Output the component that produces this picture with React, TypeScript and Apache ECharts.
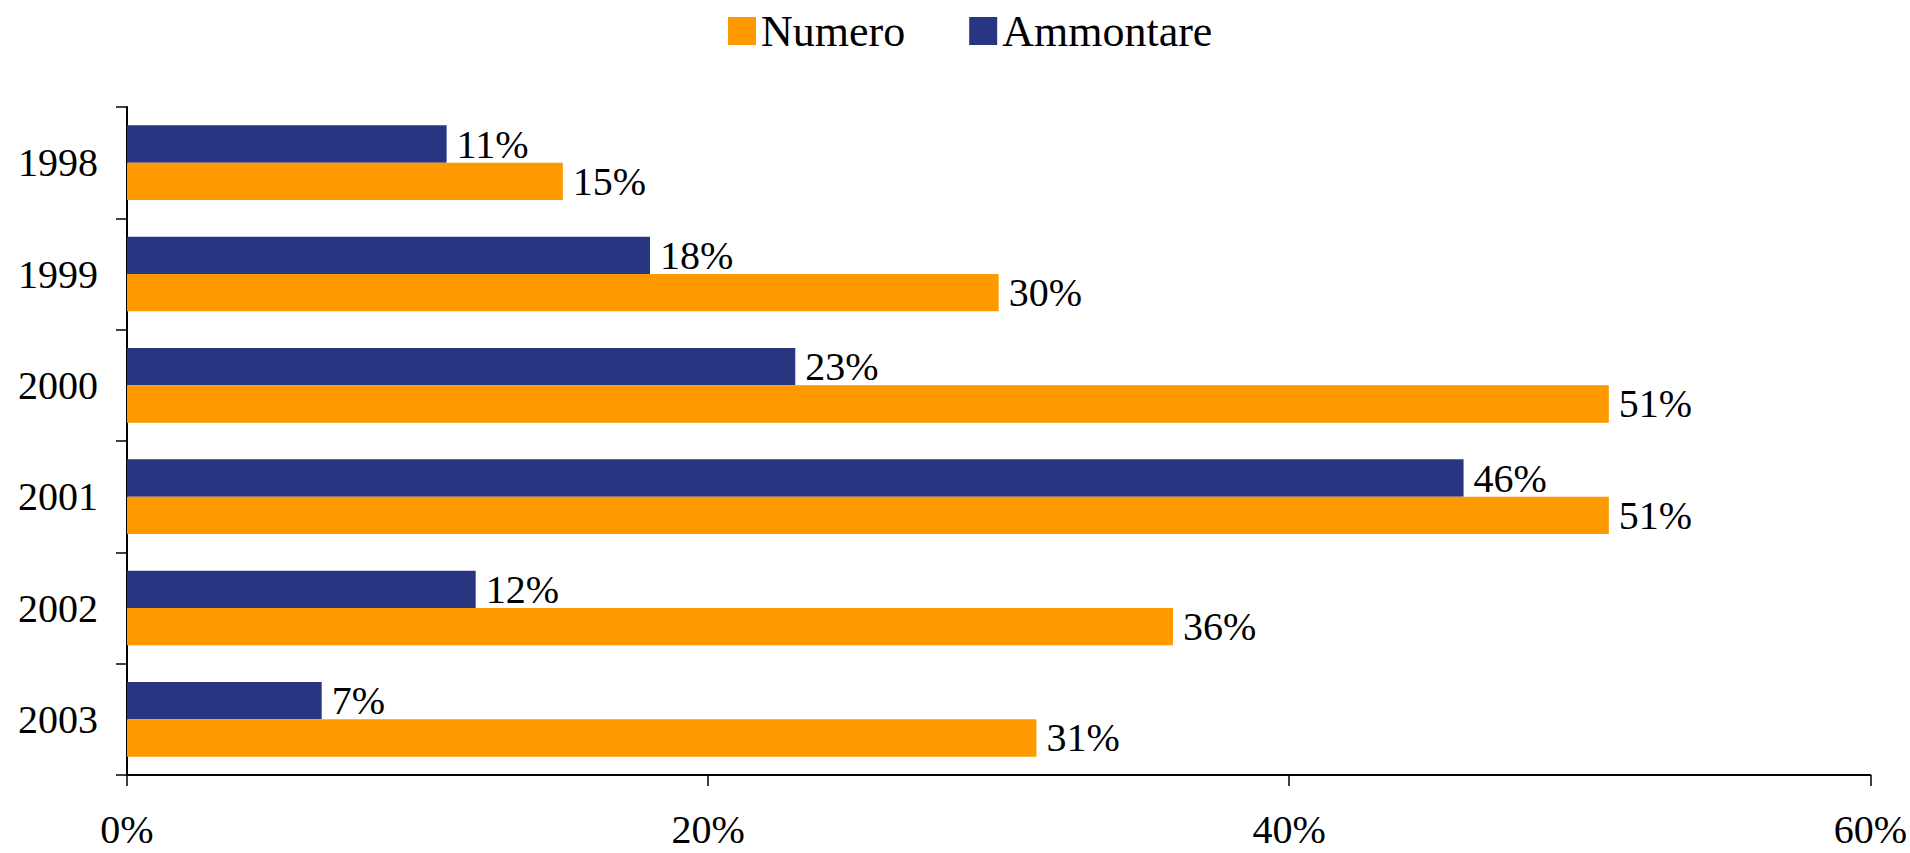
import React, { useEffect, useRef } from "react";
import * as echarts from "echarts";

const years = ["1998", "1999", "2000", "2001", "2002", "2003"];
const numero = [15, 30, 51, 51, 36, 31.3];
const ammontare = [11, 18, 23, 46, 12, 6.7];
const xTicks = [0, 20, 40, 60];

const FONT = "'Liberation Serif', 'Times New Roman', serif";

export default function App() {
  const ref = useRef<HTMLDivElement>(null);
  useEffect(() => {
    if (!ref.current) return;
    const chart = echarts.init(ref.current, null, { renderer: "svg" });
    const labelCfg = {
      show: true,
      position: "right",
      distance: 10,
      color: "#000",
      fontFamily: FONT,
      fontSize: 40,
      formatter: (p: any) => Math.round(p.value) + "%",
    };
    chart.setOption({
      animation: false,
      backgroundColor: "#fff",
      textStyle: { fontFamily: FONT },
      legend: {
        data: ["Numero", "Ammontare"],
        left: 728,
        top: 9,
        padding: 0,
        itemWidth: 28,
        itemHeight: 28,
        itemGap: 64,
        icon: "rect",
        textStyle: { fontFamily: FONT, fontSize: 44, color: "#000" },
      },
      grid: { left: 127, right: 39, top: 107, bottom: 78, containLabel: false },
      xAxis: {
        type: "value",
        min: xTicks[0],
        max: xTicks[xTicks.length - 1],
        interval: 20,
        axisLine: { show: true, lineStyle: { color: "#000", width: 2 } },
        axisTick: { show: true, length: 11, lineStyle: { color: "#000", width: 1.5 } },
        axisLabel: {
          margin: 34,
          color: "#000",
          fontFamily: FONT,
          fontSize: 40,
          formatter: (v: number) => v + "%",
        },
        splitLine: { show: false },
      },
      yAxis: {
        type: "category",
        data: years,
        inverse: true,
        axisLine: { show: true, lineStyle: { color: "#000", width: 2 } },
        axisTick: { show: true, length: 11, lineStyle: { color: "#000", width: 1.5 } },
        axisLabel: { margin: 29, color: "#000", fontFamily: FONT, fontSize: 40 },
      },
      series: [
        {
          name: "Ammontare",
          type: "bar",
          data: ammontare,
          itemStyle: { color: "#283580" },
          barGap: "0%",
          barCategoryGap: "33%",
          label: labelCfg,
        },
        {
          name: "Numero",
          type: "bar",
          data: numero,
          itemStyle: { color: "#FF9900" },
          barGap: "0%",
          barCategoryGap: "33%",
          label: labelCfg,
        },
      ],
    });
    return () => chart.dispose();
  }, []);
  return (
    <div
      ref={ref}
      style={{ position: "fixed", left: 0, top: 0, width: 1910, height: 853, background: "#fff" }}
    />
  );
}
